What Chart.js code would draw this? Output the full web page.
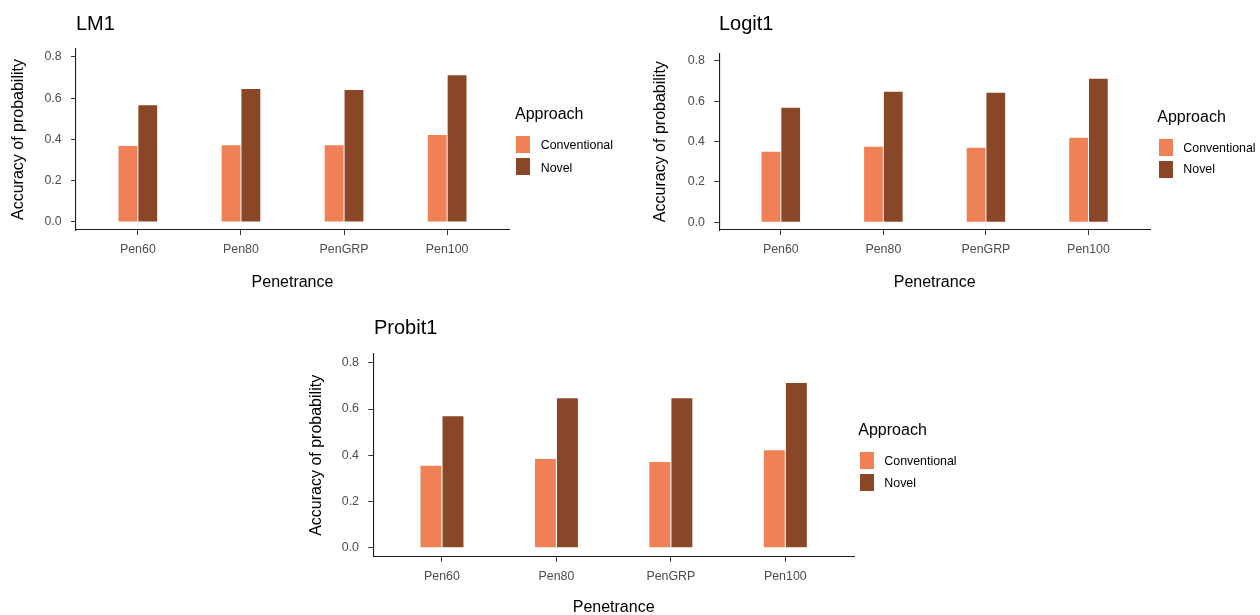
<!DOCTYPE html>
<html>
<head>
<meta charset="utf-8">
<script src="https://cdn.jsdelivr.net/npm/chart.js@4.4.0/dist/chart.umd.min.js"></script>
<style>
html,body{margin:0;padding:0;background:#fff;overflow:hidden;width:1260px;height:615px;}
body{position:relative;font-family:"Liberation Sans",Arial,Helvetica,sans-serif;}
.cv{position:absolute;}
.txt{position:absolute;white-space:nowrap;line-height:1;}
.key{position:absolute;}
</style>
</head>
<body>
<script>
// ---- data ----
const categories = ["Pen60", "Pen80", "PenGRP", "Pen100"];
const seriesNames = ["Conventional", "Novel"];
const seriesColors = ["#F08056", "#8A4728"];
const yTickValues = [0, 0.2, 0.4, 0.6, 0.8];
const legendTitle = "Approach";
const xAxisTitle = "Penetrance";
const yAxisTitle = "Accuracy of probability";

const lm1Conventional = [0.368, 0.372, 0.372, 0.421];
const lm1Novel        = [0.566, 0.644, 0.639, 0.711];
const logit1Conventional = [0.349, 0.374, 0.369, 0.419];
const logit1Novel        = [0.568, 0.647, 0.642, 0.712];
const probit1Conventional = [0.355, 0.384, 0.371, 0.422];
const probit1Novel        = [0.569, 0.647, 0.647, 0.712];

// ---- layout (positions only) ----
const FONT = '"Liberation Sans", Arial, Helvetica, sans-serif';
const panels = [
  { title: "LM1", values: [lm1Conventional, lm1Novel],
    cx: 0, cy: 0, cw: 630, ch: 300,
    area: { l: 76, t: 49, r: 509, b: 230 },
    yTitlePad: 9.2, xTitlePad: 7.6,
    titlePos: { x: 76, base: 29.5 },
    legend: { titleX: 515, titleBase: 119.5, keyX: 516, keyTops: [136, 158], textX: 540.7, textBases: [149.5, 172.2] } },
  { title: "Logit1", values: [logit1Conventional, logit1Novel],
    cx: 630, cy: 0, cw: 630, ch: 300,
    area: { l: 719.3, t: 53.3, r: 1150, b: 230 },
    yTitlePad: 21.4, xTitlePad: 7.6,
    titlePos: { x: 719, base: 29.5 },
    legend: { titleX: 1157.3, titleBase: 123, keyX: 1159, keyTops: [139, 161], textX: 1183.3, textBases: [152.2, 173.8] } },
  { title: "Probit1", values: [probit1Conventional, probit1Novel],
    cx: 300, cy: 300, cw: 660, ch: 315,
    area: { l: 373.3, t: 354, r: 854, b: 556.7 },
    yTitlePad: 6.5, xTitlePad: -1.8,
    titlePos: { x: 374, base: 333.5 },
    legend: { titleX: 858.3, titleBase: 435.5, keyX: 860, keyTops: [451.7, 474], textX: 884.3, textBases: [465.5, 487.2] } }
];

function addText(text, left, baseline, size, color) {
  const d = document.createElement('div');
  d.className = 'txt';
  d.textContent = text;
  d.style.left = left + 'px';
  d.style.top = (baseline - 0.8465 * size) + 'px';
  d.style.fontSize = size + 'px';
  d.style.color = color;
  document.body.appendChild(d);
}

function addKey(x, y, w, h, color) {
  const d = document.createElement('div');
  d.className = 'key';
  d.style.left = x + 'px';
  d.style.top = y + 'px';
  d.style.width = w + 'px';
  d.style.height = h + 'px';
  d.style.background = color;
  document.body.appendChild(d);
}

function makePanel(p) {
  const c = document.createElement('canvas');
  c.className = 'cv';
  c.style.left = p.cx + 'px';
  c.style.top = p.cy + 'px';
  c.style.width = p.cw + 'px';
  c.style.height = p.ch + 'px';
  c.width = p.cw;
  c.height = p.ch;
  document.body.appendChild(c);

  const aL = p.area.l - p.cx, aT = p.area.t - p.cy, aR = p.area.r - p.cx, aB = p.area.b - p.cy;
  const tickFont = { family: FONT, size: 12.4 };
  const titleFont = { family: FONT, size: 16 };

  new Chart(c, {
    type: 'bar',
    data: {
      datasets: seriesNames.map((n, k) => ({
        label: n,
        data: p.values[k].map((v, i) => ({ x: i, y: v })),
        backgroundColor: seriesColors[k],
        borderWidth: 0,
        categoryPercentage: 0.385,
        barPercentage: 0.95
      }))
    },
    options: {
      responsive: false,
      animation: false,
      devicePixelRatio: 1,
      layout: { padding: { left: 0, top: aT, right: p.cw - aR, bottom: 0 } },
      plugins: { legend: { display: false }, tooltip: { enabled: false }, title: { display: false } },
      scales: {
        x: {
          type: 'linear',
          offset: false,
          min: -0.6, max: 3.6,
          afterBuildTicks: s => { s.ticks = categories.map((_, i) => ({ value: i })); },
          afterFit: s => { s.height = p.ch - aB; },
          ticks: { callback: v => categories[v], font: tickFont, color: '#4d4d4d', padding: 7.5, maxRotation: 0, autoSkip: false },
          grid: { offset: false, drawOnChartArea: false, drawTicks: true, tickLength: 5, color: '#333', tickColor: '#333', tickWidth: 1 },
          border: { display: true, color: '#1a1a1a', width: 1.1 },
          title: { display: true, text: xAxisTitle, font: titleFont, color: '#000', padding: { top: 0, bottom: p.xTitlePad } }
        },
        y: {
          min: -0.039, max: 0.838,
          afterBuildTicks: s => { s.ticks = yTickValues.map(v => ({ value: v })); },
          afterFit: s => { s.width = aL; },
          ticks: { callback: v => Number(v).toFixed(1), font: tickFont, color: '#4d4d4d', padding: 9.3 },
          grid: { offset: false, drawOnChartArea: false, drawTicks: true, tickLength: 5, color: '#333', tickColor: '#333', tickWidth: 1 },
          border: { display: true, color: '#1a1a1a', width: 1.1 },
          title: { display: true, text: yAxisTitle, font: titleFont, color: '#000', padding: { top: p.yTitlePad, bottom: 0 } }
        }
      }
    }
  });

  addText(p.title, p.titlePos.x, p.titlePos.base, 20, '#000');
  const L = p.legend;
  addText(legendTitle, L.titleX, L.titleBase, 16, '#000');
  seriesNames.forEach((n, k) => {
    addKey(L.keyX, L.keyTops[k], 14, 17, seriesColors[k]);
    addText(n, L.textX, L.textBases[k], 12.4, '#000');
  });
}

panels.forEach(makePanel);
</script>
</body>
</html>
